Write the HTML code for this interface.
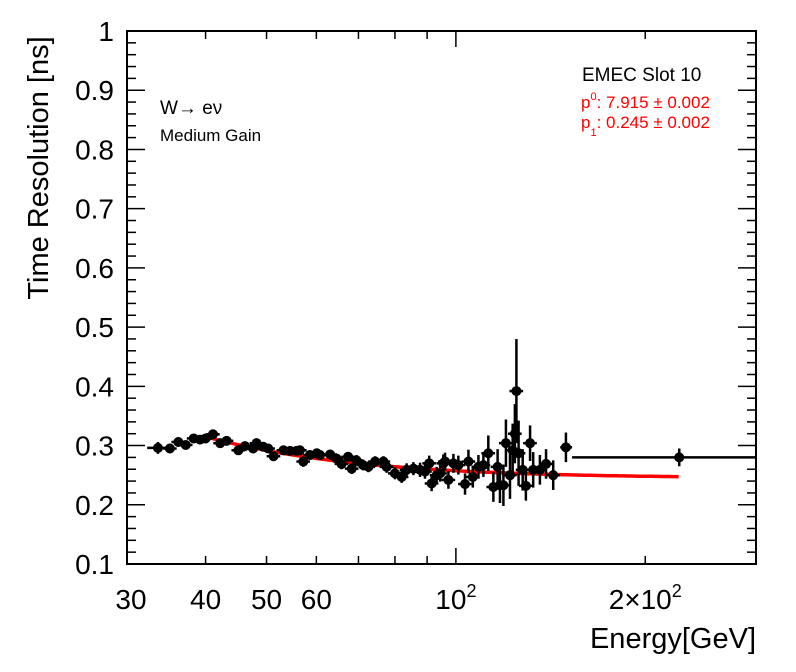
<!DOCTYPE html>
<html><head><meta charset="utf-8"><style>
body{margin:0;background:#fff}
svg{display:block;font-family:"Liberation Sans",sans-serif}
</style></head><body>
<svg id="chart" width="796" height="672" viewBox="0 0 796 672">
<rect width="796" height="672" fill="#fff"/>
<g id="axes"></g>
<g id="fit"></g>
<g id="points"></g>
<text transform="translate(48,168) rotate(-90)" text-anchor="middle" font-size="29">Time Resolution [ns]</text>
<text x="756" y="648" text-anchor="end" font-size="29">Energy[GeV]</text>
<text x="160" y="114" font-size="19">W→ eν</text>
<text x="160" y="141" font-size="17">Medium Gain</text>
<text x="582" y="81" font-size="19">EMEC Slot 10</text>
<text x="581" y="108" font-size="17" fill="#f00">p<tspan font-size="11" dy="-8">0</tspan><tspan dy="8">: 7.915 ± 0.002</tspan></text>
<text x="581" y="128" font-size="17" fill="#f00">p<tspan font-size="11" dy="8">1</tspan><tspan dy="-8">: 0.245 ± 0.002</tspan></text>
</svg>
<script>
const energies=[33.6,35.1,36.2,37.2,38.3,39.2,40.0,41.1,42.2,43.2,45.1,46.2,47.6,48.2,49.4,50.3,51.3,53.2,54.5,55.8,56.5,57.2,58.6,60.1,60.8,63.1,64.6,65.8,67.4,68.3,69.5,71.2,72.6,74.4,76.7,77.6,80.0,82.0,83.5,85.6,87.7,89.3,90.7,91.5,93.2,94.4,95.5,96.1,97.3,99.1,100.9,103.4,104.7,106.4,108.6,110.6,112.6,114.7,116.5,117.5,119.0,120.1,121.9,123.1,124.1,124.8,125.8,127.7,129.2,131.2,132.7,136.0,139.1,142.8,149.6,226.5];
const resolutions=[0.296,0.295,0.306,0.301,0.312,0.310,0.312,0.319,0.304,0.308,0.292,0.299,0.295,0.304,0.298,0.295,0.282,0.292,0.291,0.291,0.292,0.273,0.284,0.287,0.284,0.285,0.278,0.269,0.281,0.261,0.275,0.267,0.264,0.273,0.273,0.264,0.253,0.247,0.259,0.261,0.259,0.256,0.270,0.236,0.250,0.253,0.270,0.273,0.242,0.270,0.267,0.235,0.273,0.247,0.264,0.267,0.287,0.230,0.264,0.233,0.233,0.304,0.250,0.292,0.320,0.392,0.287,0.259,0.232,0.304,0.259,0.259,0.269,0.250,0.297,0.280];
const errors=[0.010,0.008,0.008,0.007,0.007,0.007,0.008,0.008,0.007,0.007,0.007,0.007,0.007,0.007,0.007,0.007,0.008,0.007,0.007,0.007,0.008,0.009,0.008,0.008,0.008,0.008,0.008,0.009,0.008,0.009,0.009,0.009,0.009,0.009,0.009,0.010,0.010,0.010,0.011,0.011,0.012,0.012,0.013,0.013,0.014,0.014,0.015,0.015,0.015,0.016,0.016,0.018,0.020,0.018,0.020,0.020,0.030,0.025,0.030,0.030,0.035,0.040,0.040,0.045,0.050,0.088,0.055,0.035,0.025,0.030,0.030,0.025,0.025,0.025,0.025,0.015];
const xLow=[146.5,153];
const xHigh=[153,300];
const fitP0=[7.915];
const fitP1=[0.245];
const fitRange=[40,226];
const yTicks=[0.1,0.2,0.3,0.4,0.5,0.6,0.7,0.8,0.9,1];
const yTickLabels=["0.1","0.2","0.3","0.4","0.5","0.6","0.7","0.8","0.9","1"];
const xTicks=[30,40,50,60,70,80,90,100,200,300];
const xLabelVals=[30,40,50,60,100,200];
const xLabels=["30","40","50","60","10²","2×10²"];

const L=127,R=756,T=31,B=564;
const X=e=>L+(R-L)*Math.log10(e/30);
const Y=v=>B-(B-T)*(v-0.1)/0.9;
const NS="http://www.w3.org/2000/svg";
function mk(tag,attrs,parent){const el=document.createElementNS(NS,tag);for(const k in attrs)el.setAttribute(k,attrs[k]);parent.appendChild(el);return el;}
const ax=document.getElementById('axes');
let fr=mk('rect',{x:L,y:T,width:R-L,height:B-T,fill:'none',stroke:'#000','stroke-width':2},ax);


for(let v=0.1;v<=1.0001;v+=0.02){
  const major=Math.abs(v*10-Math.round(v*10))<1e-6;const len=major?18:9;
  mk('line',{x1:L,x2:L+len,y1:Y(v),y2:Y(v),stroke:'#000','stroke-width':1.5},ax);
  mk('line',{x1:R,x2:R-len,y1:Y(v),y2:Y(v),stroke:'#000','stroke-width':1.5},ax);
}
yTicks.forEach((v,i)=>{const t=mk('text',{x:114,y:Y(v)+10,'text-anchor':'end','font-size':28},ax);t.textContent=yTickLabels[i];

});
xTicks.forEach(e=>{const len=(e===100)?16:8;
  mk('line',{x1:X(e),x2:X(e),y1:B,y2:B-len,stroke:'#000','stroke-width':1.5},ax);
  mk('line',{x1:X(e),x2:X(e),y1:T,y2:T+len,stroke:'#000','stroke-width':1.5},ax);});
xLabelVals.forEach((e,i)=>{const t=mk('text',{x:X(e)+(e===30?4:0),y:609,'text-anchor':'middle','font-size':28},ax);
  if(xLabels[i].includes('²')){const base=xLabels[i].replace('²','');t.textContent=base;const s=mk('tspan',{'font-size':18,dy:-12},t);s.textContent='2';}
  else t.textContent=xLabels[i];
  
  });
const fg=document.getElementById('fit');let pts=[];
for(let i=0;i<=200;i++){const e=fitRange[0]*Math.pow(fitRange[1]/fitRange[0],i/200);const v=Math.sqrt(Math.pow(fitP0[0]/e,2)+fitP1[0]*fitP1[0]);pts.push(X(e).toFixed(1)+','+Y(v).toFixed(1));}
const fl=mk('polyline',{points:pts.join(' '),fill:'none',stroke:'#f00','stroke-width':3.5},fg);


const pg=document.getElementById('points');const n=energies.length;
energies.forEach((e,i)=>{const g=mk('g',{},pg);
  
  
  const v=resolutions[i],er=errors[i];
  mk('line',{x1:X(e),x2:X(e),y1:Y(v-er),y2:Y(v+er),stroke:'#000','stroke-width':2.5},g);
  let lo=e*0.975,hi=e*1.025;
  if(i>=n-2){lo=xLow[i-(n-2)];hi=xHigh[i-(n-2)];}
  if(i===0){lo=32.3;hi=35;}
  mk('line',{x1:X(lo),x2:X(hi),y1:Y(v),y2:Y(v),stroke:'#000','stroke-width':2.5},g);
  mk('circle',{cx:X(e),cy:Y(v),r:5,fill:'#000'},g);});
</script>
</body></html>
